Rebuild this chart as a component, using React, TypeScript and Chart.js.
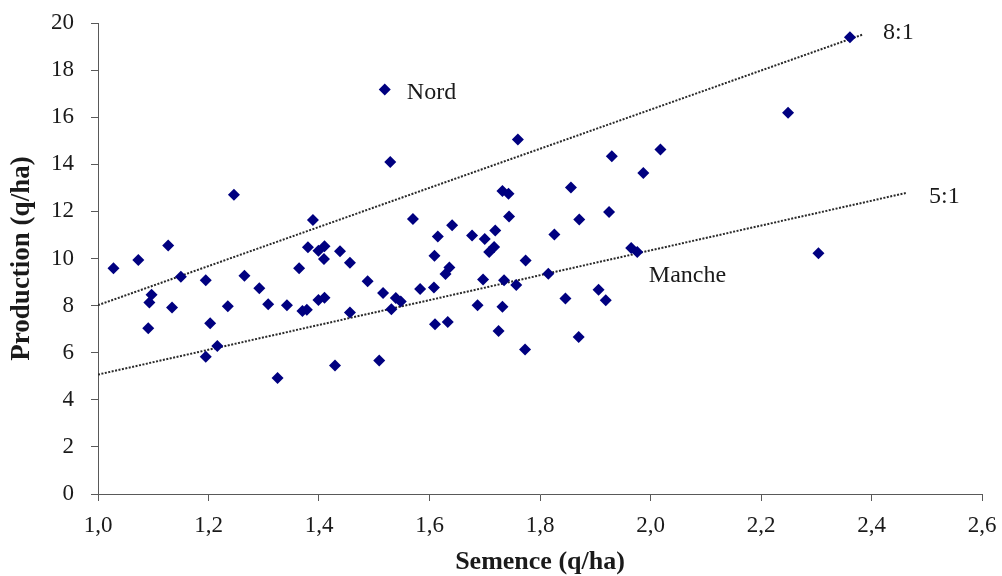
import React, { useEffect, useRef } from 'react';
import { Chart, registerables } from 'chart.js';

Chart.register(...registerables);

// Seed (q/ha) and production (q/ha) per observation
const seedX = [
  1.028, 1.073, 1.127, 1.246, 1.150, 1.195, 1.265, 1.292, 1.097, 1.093,
  1.134, 1.235, 1.308, 1.342, 1.091, 1.203, 1.216, 1.195, 1.325, 1.529,
  1.389, 1.570, 1.641, 1.615, 1.677, 1.380, 1.399, 1.410, 1.409, 1.438,
  1.456, 1.364, 1.609, 1.636, 1.629, 1.488, 1.516, 1.583, 1.608, 1.370,
  1.378, 1.399, 1.410, 1.539, 1.548, 1.531, 1.456, 1.687, 1.610, 1.633,
  1.429, 1.509, 1.760, 1.930, 2.018, 1.987, 1.732, 1.743, 1.856, 1.744,
  1.925, 1.871, 1.826, 1.719, 1.700, 1.708, 1.717, 1.965, 1.976, 1.774,
  1.815, 1.697, 1.735, 1.757, 1.906, 1.919, 1.846, 1.732, 1.725, 1.870,
  1.773, 2.361, 2.249, 2.304, 1.519,
];
const prodY = [
  9.59, 9.94, 10.55, 12.71, 9.22, 9.08, 9.27, 8.74, 8.46, 8.13,
  7.92, 7.97, 8.06, 8.01, 7.04, 7.25, 6.28, 5.83, 4.93, 14.10,
  11.64, 11.68, 11.41, 10.93, 10.98, 10.48, 10.33, 10.52, 9.98, 10.31,
  9.82, 9.59, 10.12, 9.62, 9.34, 9.03, 8.53, 8.70, 8.77, 7.77,
  7.82, 8.24, 8.33, 8.32, 8.17, 7.85, 7.71, 8.02, 7.21, 7.30,
  5.46, 5.67, 15.05, 14.34, 14.63, 13.63, 12.87, 12.75, 13.01, 11.78,
  11.97, 11.66, 11.02, 11.19, 10.83, 10.28, 10.49, 10.45, 10.28, 9.92,
  9.35, 9.11, 9.08, 8.88, 8.67, 8.23, 8.30, 7.95, 6.92, 6.67,
  6.14, 19.40, 16.19, 10.22, 17.18,
];

// Reference ratio lines (end points)
const ratio8X = [1.0, 2.383];
const ratio8Y = [8.02, 19.5];
const ratio5X = [1.0, 2.462];
const ratio5Y = [5.07, 12.78];

// Annotations
const noteTexts = ['8:1', '5:1', 'Nord', 'Manche'];
const noteX = [2.421, 2.504, 1.559, 1.997];
const noteY = [19.57, 12.62, 17.03, 9.25];

const xTitle = 'Semence (q/ha)';
const yTitle = 'Production (q/ha)';

const FONT = '"Liberation Serif", "Times New Roman", serif';
const AXIS = '#595959';
const TEXT = '#1a1a1a';

export default function App() {
  const ref = useRef<HTMLCanvasElement | null>(null);

  useEffect(() => {
    if (!ref.current) return;
    const notesPlugin = {
      id: 'notes',
      afterDatasetsDraw(chart: any) {
        const { ctx, scales } = chart;
        ctx.save();
        ctx.font = `24px ${FONT}`;
        ctx.fillStyle = TEXT;
        ctx.textAlign = 'left';
        ctx.textBaseline = 'middle';
        noteTexts.forEach((t, i) => {
          ctx.fillText(t, scales.x.getPixelForValue(noteX[i]), scales.y.getPixelForValue(noteY[i]));
        });
        ctx.restore();
      },
    };

    const chart = new Chart(ref.current, {
      type: 'scatter',
      data: {
        datasets: [
          {
            label: 'Observations',
            data: seedX.map((x, i) => ({ x, y: prodY[i] })),
            pointStyle: 'rectRot',
            pointRadius: 6,
            pointBackgroundColor: '#000080',
            pointBorderColor: '#000080',
            pointBorderWidth: 0,
            order: 1,
          },
          {
            label: '8:1',
            type: 'line',
            data: ratio8X.map((x, i) => ({ x, y: ratio8Y[i] })),
            borderColor: '#2a2a2a',
            borderWidth: 2,
            borderDash: [2, 1.5],
            pointRadius: 0,
            fill: false,
            order: 2,
          },
          {
            label: '5:1',
            type: 'line',
            data: ratio5X.map((x, i) => ({ x, y: ratio5Y[i] })),
            borderColor: '#2a2a2a',
            borderWidth: 2,
            borderDash: [2, 1.5],
            pointRadius: 0,
            fill: false,
            order: 2,
          },
        ] as any,
      },
      options: {
        animation: false,
        responsive: true,
        maintainAspectRatio: false,
        layout: { padding: { top: 23, right: 20, bottom: 0, left: 0 } },
        plugins: {
          legend: { display: false },
          tooltip: { enabled: false },
        },
        scales: {
          x: {
            type: 'linear',
            min: 1.0,
            max: 2.6,
            afterFit: (s: any) => {
              s.height = 82;
              s.paddingLeft = 0;
              s.paddingRight = 0;
            },
            ticks: {
              stepSize: 0.2,
              color: TEXT,
              font: { family: FONT, size: 23 },
              padding: 11,
              callback: (v: any) => Number(v).toFixed(1).replace('.', ','),
            },
            grid: { display: true, drawOnChartArea: false, drawTicks: true, tickLength: 7, color: AXIS },
            border: { display: true, color: AXIS, width: 1 },
            title: {
              display: true,
              text: xTitle,
              color: TEXT,
              font: { family: FONT, size: 26, weight: 'bold', lineHeight: 1 },
              padding: { top: 0, bottom: 1 },
            },
          },
          y: {
            type: 'linear',
            min: 0,
            max: 20,
            afterFit: (s: any) => {
              s.width = 98;
              s.paddingTop = 0;
              s.paddingBottom = 0;
            },
            ticks: {
              stepSize: 2,
              color: TEXT,
              font: { family: FONT, size: 23 },
              padding: 17,
            },
            grid: { display: true, drawOnChartArea: false, drawTicks: true, tickLength: 7, color: AXIS },
            border: { display: true, color: AXIS, width: 1 },
            title: {
              display: true,
              text: yTitle,
              color: TEXT,
              font: { family: FONT, size: 27, weight: 'bold', lineHeight: 1 },
              padding: { top: 9, bottom: 0 },
            },
          },
        },
      } as any,
      plugins: [notesPlugin],
    });
    return () => chart.destroy();
  }, []);

  return (
    <div style={{ position: 'absolute', left: 0, top: 0, width: 1002, height: 576, background: '#fff' }}>
      <canvas ref={ref} />
    </div>
  );
}
